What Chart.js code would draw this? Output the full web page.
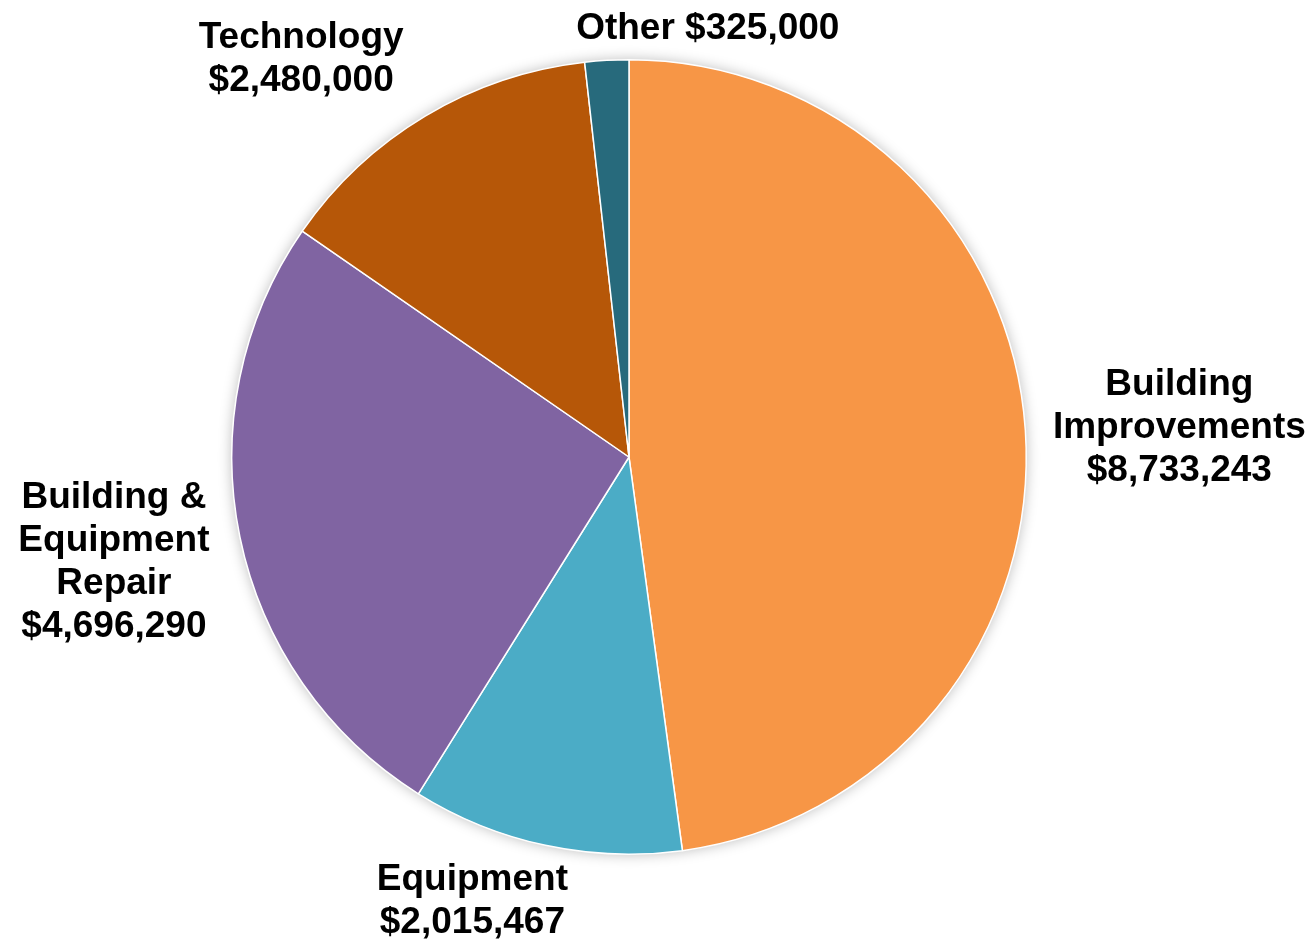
<!DOCTYPE html>
<html>
<head>
<meta charset="utf-8">
<script src="https://cdn.jsdelivr.net/npm/chart.js@4/dist/chart.umd.min.js"></script>
<style>
  html, body { margin: 0; padding: 0; background: #fff; }
  #wrap { width: 1315px; height: 942px; }
</style>
</head>
<body>
<div id="wrap"><canvas id="pie"></canvas></div>
<script>
const categories = ["Building Improvements", "Equipment", "Building & Equipment Repair", "Technology", "Other"];
const amounts = [8733243, 2015467, 4696290, 2480000, 325000];
const labelLines = [
    ["Building", "Improvements"],
    ["Equipment"],
    ["Building &", "Equipment", "Repair"],
    ["Technology"],
    ["Other"]
];
const sliceColors = ["#F79646", "#4BACC6", "#8064A2", "#B65708", "#276A7C"];

const money = v => "$" + v.toLocaleString("en-US");

// soft shadow behind the whole pie
const pieShadow = {
    id: "pieShadow",
    beforeDatasetsDraw(chart) {
        const arc = chart.getDatasetMeta(0).data[0];
        if (!arc) return;
        const ctx = chart.ctx;
        ctx.save();
        ctx.shadowColor = "rgba(0,0,0,0.28)";
        ctx.shadowBlur = 14;
        ctx.fillStyle = "#fff";
        ctx.beginPath();
        ctx.arc(arc.x, arc.y, arc.outerRadius, 0, Math.PI * 2);
        ctx.fill();
        ctx.restore();
    }
};

// labels outside the slices, anchored on the rim at each slice's middle angle
const outsideLabels = {
    id: "outsideLabels",
    afterDatasetsDraw(chart, args, opts) {
        const ctx = chart.ctx;
        const meta = chart.getDatasetMeta(0);
        ctx.save();
        ctx.font = "bold 37px 'Liberation Sans', Arial, sans-serif";
        ctx.fillStyle = "#000";
        ctx.textAlign = "center";
        ctx.textBaseline = "middle";
        meta.data.forEach((arc, i) => {
            const mid = (arc.startAngle + arc.endAngle) / 2;
            const px = arc.x + Math.cos(mid) * arc.outerRadius;
            const py = arc.y + Math.sin(mid) * arc.outerRadius;
            const off = opts.offsets[i];
            const lines = i === 4
                ? [labelLines[i][0] + " " + money(amounts[i])]
                : labelLines[i].concat([money(amounts[i])]);
            const cx = px + off[0];
            const cy = py + off[1];
            const top = cy - (lines.length - 1) * opts.lineHeight / 2;
            lines.forEach((t, k) => ctx.fillText(t, cx, top + k * opts.lineHeight));
        });
        ctx.restore();
    }
};

new Chart(document.getElementById("pie"), {
    type: "pie",
    data: {
        labels: categories,
        datasets: [{
            data: amounts,
            backgroundColor: sliceColors,
            borderColor: "#fff",
            borderWidth: 1.5
        }]
    },
    options: {
        responsive: true,
        maintainAspectRatio: false,
        animation: false,
        layout: { padding: { top: 59, bottom: 87, left: 150, right: 207 } },
        plugins: {
            legend: { display: false },
            tooltip: { enabled: false },
            outsideLabels: {
                lineHeight: 43,
                offsets: [[154, -2], [-73, 56], [-126, 25], [-124, -57], [101, -32]]
            }
        }
    },
    plugins: [pieShadow, outsideLabels]
});
</script>
</body>
</html>
